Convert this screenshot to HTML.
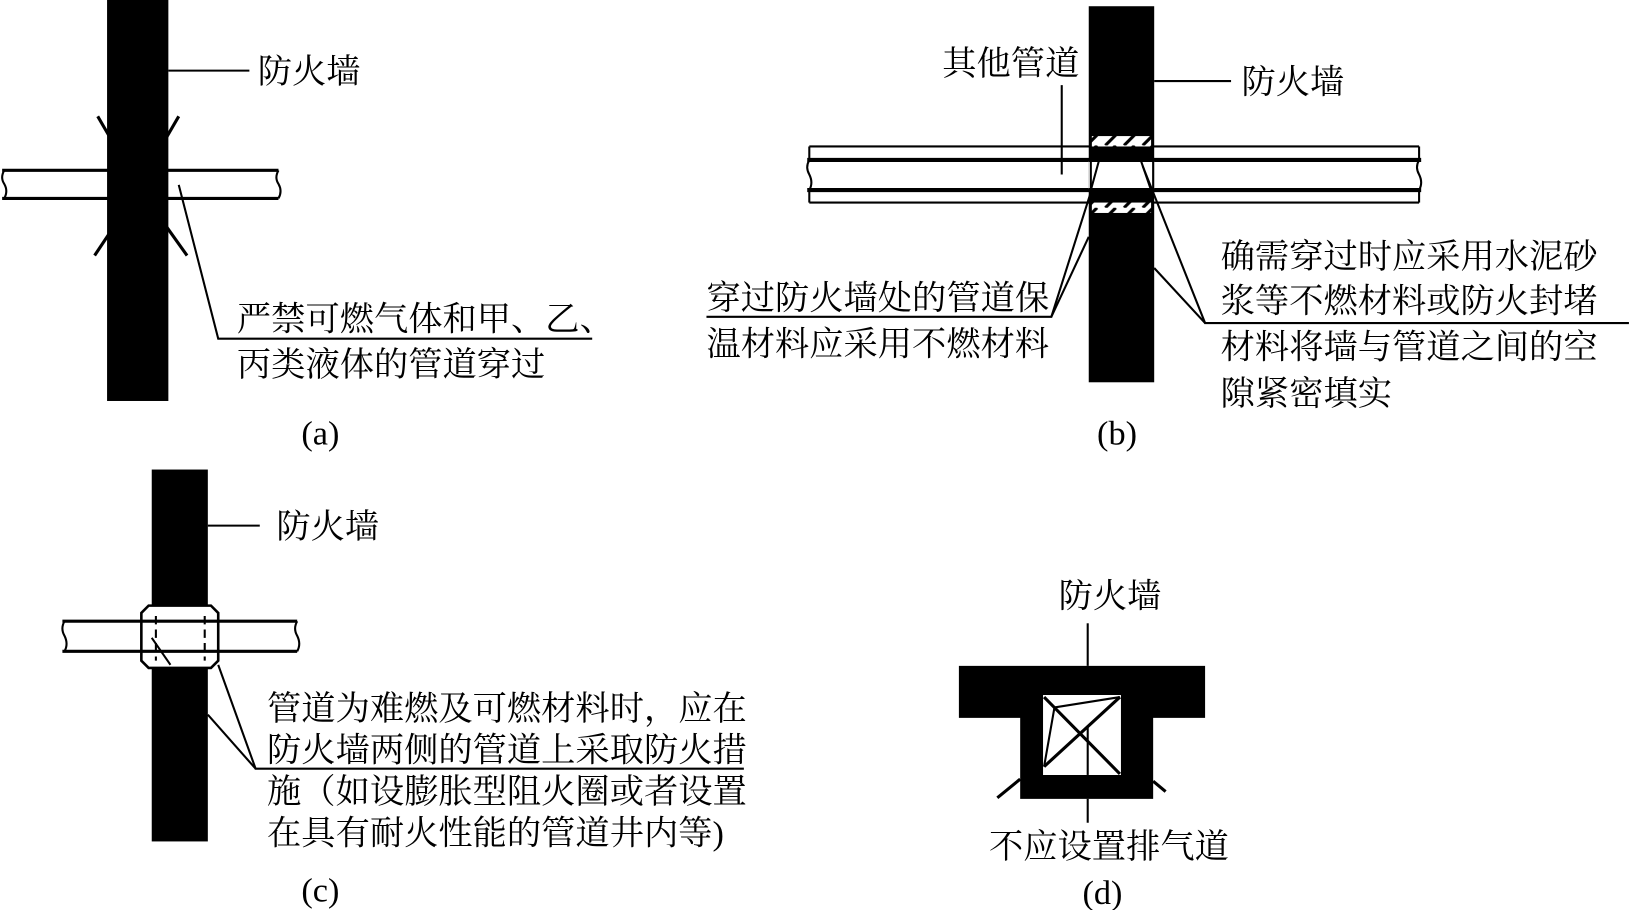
<!DOCTYPE html>
<html><head><meta charset="utf-8"><style>
html,body{margin:0;padding:0;background:#fff;}
svg{display:block}
text{font-family:"Liberation Serif","Noto Serif CJK SC",serif;font-size:33px;fill:#000}
</style></head><body>
<svg width="1629" height="910" viewBox="0 0 1568 876" xmlns="http://www.w3.org/2000/svg">
<defs>
<pattern id="h" width="18" height="10" patternUnits="userSpaceOnUse">
<rect width="18" height="10" fill="#fff"/><line x1="2" y1="10" x2="12" y2="0" stroke="#000" stroke-width="3"/>
</pattern>
</defs>
<g stroke="#000" fill="none" stroke-width="2">
<!-- (a) -->
<line x1="2" y1="164" x2="268" y2="164" stroke-width="3"/>
<line x1="2" y1="191" x2="268" y2="191" stroke-width="3"/>
<path d="M4 164 Q0 171 4 177 Q8 184 4 191"/>
<path d="M268 164 Q264 171 268 177 Q272 184 268 191"/>
<rect x="103" y="0" width="59" height="386" fill="#000" stroke="none"/>
<line x1="94" y1="112" x2="108" y2="136" stroke-width="3"/>
<line x1="172" y1="112" x2="158" y2="136" stroke-width="3"/>
<line x1="91" y1="246" x2="107" y2="222" stroke-width="3"/>
<line x1="180" y1="246" x2="160" y2="218" stroke-width="3"/>
<line x1="162" y1="68" x2="240" y2="68"/>
<polyline points="172,178 210,326 570,326"/>
<!-- (b) -->
<rect x="779" y="142" width="587" height="52" fill="#fff" stroke="none"/>
<line x1="777" y1="154" x2="1368" y2="154" stroke-width="4"/>
<line x1="777" y1="183" x2="1368" y2="183" stroke-width="4"/>
<path d="M779 154 Q775 161 779 168 Q783 176 779 183"/>
<path d="M1366 154 Q1362 161 1366 168 Q1370 176 1366 183"/>
<line x1="779" y1="141" x2="1366" y2="141"/>
<line x1="779" y1="195" x2="1366" y2="195"/>
<line x1="779" y1="141" x2="779" y2="154"/>
<line x1="1366" y1="141" x2="1366" y2="154"/>
<line x1="779" y1="183" x2="779" y2="195"/>
<line x1="1366" y1="183" x2="1366" y2="195"/>
<rect x="1048" y="6" width="63" height="362" fill="#000" stroke="none"/>
<rect x="1051" y="131" width="57" height="10" fill="url(#h)" stroke="none"/>
<rect x="1051" y="195" width="57" height="10" fill="url(#h)" stroke="none"/>
<rect x="1048" y="155" width="63" height="27" fill="#fff" stroke="none"/>
<line x1="1048" y1="154" x2="1111" y2="154" stroke-width="4"/>
<line x1="1048" y1="183" x2="1111" y2="183" stroke-width="4"/>
<line x1="1050" y1="154" x2="1050" y2="183"/>
<line x1="1110" y1="154" x2="1110" y2="183"/>
<line x1="1058" y1="154" x2="1050" y2="183"/>
<line x1="1098" y1="154" x2="1108" y2="183"/>
<polyline points="1050,185 1012,305 680,305"/>
<line x1="1048" y1="228" x2="1012" y2="305"/>
<polyline points="1100,160 1160,311 1568,311"/>
<line x1="1111" y1="258" x2="1160" y2="311"/>
<line x1="1022" y1="82" x2="1022" y2="168"/>
<line x1="1111" y1="78" x2="1185" y2="78"/>
<!-- (c) -->
<line x1="60" y1="598" x2="286" y2="598" stroke-width="3"/>
<line x1="60" y1="627" x2="286" y2="627" stroke-width="3"/>
<path d="M62 598 Q58 605 62 612 Q66 620 62 627"/>
<path d="M286 598 Q282 605 286 612 Q290 620 286 627"/>
<rect x="146" y="452" width="54" height="130" fill="#000" stroke="none"/>
<rect x="146" y="643" width="54" height="167" fill="#000" stroke="none"/>
<polygon points="143,583 203,583 210,590 210,636 203,643 143,643 136,636 136,590" stroke-width="2.5"/>
<line x1="150" y1="593" x2="150" y2="636" stroke-dasharray="8,5"/>
<line x1="197" y1="593" x2="197" y2="636" stroke-dasharray="8,5"/>
<line x1="146" y1="614" x2="164" y2="640"/>
<line x1="200" y1="506" x2="250" y2="506"/>
<polyline points="210,640 246,740 716,740"/>
<line x1="200" y1="688" x2="246" y2="740"/>
<!-- (d) -->
<path d="M923 641 H1160 V691 H1110 V769 H982 V691 H923 Z M1004 669 V746 H1079 V669 Z" fill="#000" fill-rule="evenodd" stroke="none"/>
<line x1="1047" y1="600" x2="1047" y2="641"/>
<line x1="1047" y1="769" x2="1047" y2="792"/>
<line x1="1047" y1="700" x2="1047" y2="746"/>
<line x1="1005" y1="671" x2="1078" y2="745" stroke-width="3"/>
<line x1="1078" y1="671" x2="1005" y2="738" stroke-width="3"/>
<polyline points="1078,671 1015,681 1005,738"/>
<line x1="960" y1="768" x2="982" y2="750" stroke-width="3"/>
<line x1="1110" y1="752" x2="1122" y2="762" stroke-width="3"/>
</g>
<text x="248" y="80">防火墙</text>
<text x="228" y="318">严禁可燃气体和甲、乙、</text>
<text x="228" y="362">丙类液体的管道穿过</text>
<text x="290" y="428" font-size="29">(a)</text>
<text x="907" y="72">其他管道</text>
<text x="1195" y="90">防火墙</text>
<text x="680" y="298">穿过防火墙处的管道保</text>
<text x="680" y="342">温材料应采用不燃材料</text>
<text x="1175" y="258">确需穿过时应采用水泥砂</text>
<text x="1175" y="301">浆等不燃材料或防火封堵</text>
<text x="1175" y="345">材料将墙与管道之间的空</text>
<text x="1175" y="390">隙紧密填实</text>
<text x="1056" y="428" font-size="29">(b)</text>
<text x="266" y="518">防火墙</text>
<text x="257" y="693">管道为难燃及可燃材料时，应在</text>
<text x="257" y="733">防火墙两侧的管道上采取防火措</text>
<text x="257" y="773">施（如设膨胀型阻火圈或者设置</text>
<text x="257" y="813">在具有耐火性能的管道井内等)</text>
<text x="290" y="868" font-size="29">(c)</text>
<text x="1019" y="585">防火墙</text>
<text x="952" y="826">不应设置排气道</text>
<text x="1042" y="870" font-size="29">(d)</text>
</svg>
</body></html>
